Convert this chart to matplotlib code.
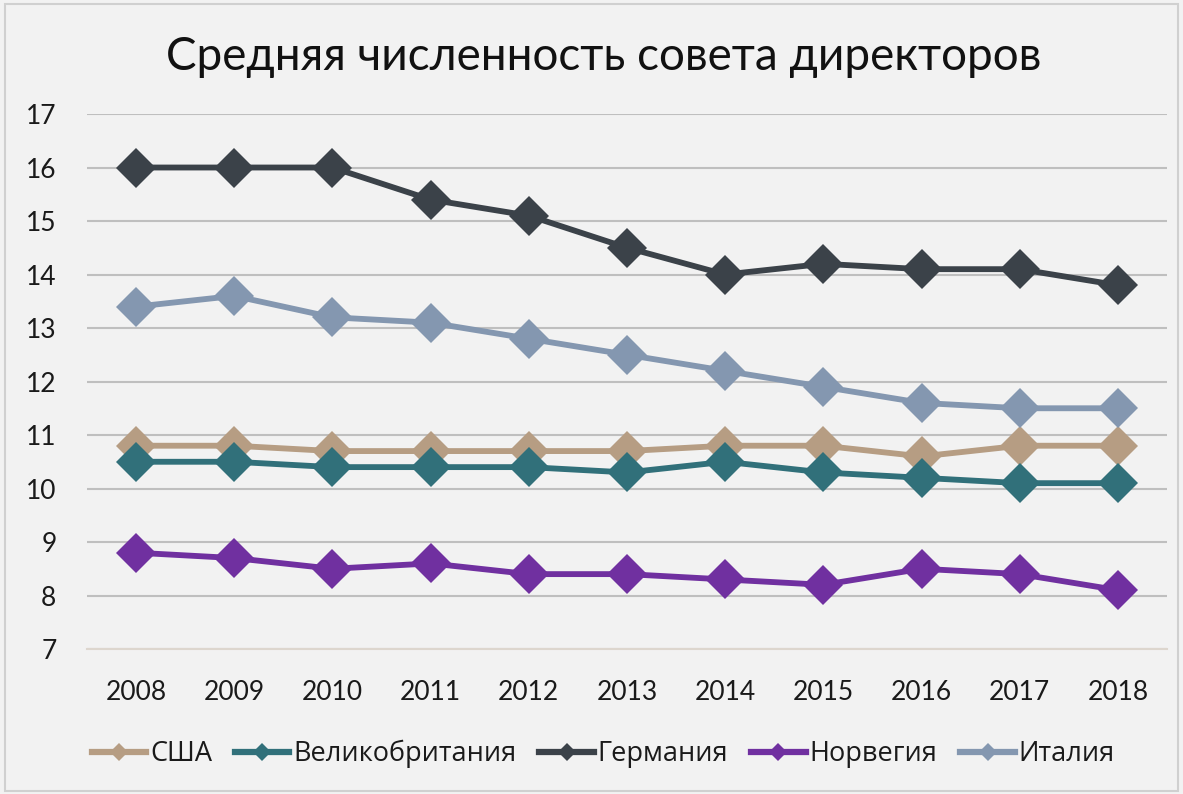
import matplotlib
matplotlib.use("Agg")
import matplotlib.pyplot as plt
from matplotlib.patches import Rectangle
from matplotlib.lines import Line2D

years = ["2008", "2009", "2010", "2011", "2012", "2013", "2014", "2015", "2016", "2017", "2018"]
usa = [10.8, 10.8, 10.7, 10.7, 10.7, 10.7, 10.8, 10.8, 10.6, 10.8, 10.8]
uk = [10.5, 10.5, 10.4, 10.4, 10.4, 10.3, 10.5, 10.3, 10.2, 10.1, 10.1]
germany = [16.0, 16.0, 16.0, 15.4, 15.1, 14.5, 14.0, 14.2, 14.1, 14.1, 13.8]
norway = [8.8, 8.7, 8.5, 8.6, 8.4, 8.4, 8.3, 8.2, 8.5, 8.4, 8.1]
italy = [13.4, 13.6, 13.2, 13.1, 12.8, 12.5, 12.2, 11.9, 11.6, 11.5, 11.5]

series_names = ["США", "Великобритания", "Германия", "Норвегия", "Италия"]
series_values = [usa, uk, germany, norway, italy]
colors = ["#B69D83", "#31707A", "#3B4249", "#7030A0", "#8497B0"]
yticks = [7, 8, 9, 10, 11, 12, 13, 14, 15, 16, 17]
title = "Средняя численность совета директоров"

tick_font = ["Lato", "DejaVu Sans"]
title_font = ["Lato", "DejaVu Sans"]
legend_font = ["Open Sans", "DejaVu Sans"]

bg = "#F2F2F2"
fig = plt.figure(figsize=(11.83, 7.94), dpi=100, facecolor=bg)
fig.patches.append(Rectangle((0.004, 0.004), 0.992, 0.991, transform=fig.transFigure,
                             fill=False, edgecolor="#D0D0D0", linewidth=1.5))
ax = fig.add_axes([0.0735, 0.1826, 0.913, 0.6738])
ax.set_facecolor(bg)

x = list(range(len(years)))
for name, vals, c in zip(series_names, series_values, colors):
    ax.plot(x, vals, color=c, linewidth=4.2, marker="D", markersize=20,
            markeredgewidth=0, solid_joinstyle="round", label=name)

ax.set_xlim(-0.5, len(years) - 0.5)
ax.set_ylim(7, 17)
ax.set_yticks(yticks)
ax.set_xticks(x)
ax.set_xticklabels(years)
ax.yaxis.grid(True, color="#BFBFBF", linewidth=1.5)
ax.set_axisbelow(True)
for s in ["left", "right", "top"]:
    ax.spines[s].set_visible(False)
ax.spines["bottom"].set_color("#DDD6CE")
ax.spines["bottom"].set_linewidth(1.5)
ax.tick_params(axis="both", length=0, labelsize=19, colors="#1a1a1a")
ax.tick_params(axis="y", pad=22)
ax.tick_params(axis="x", pad=22)
for lab in ax.get_xticklabels() + ax.get_yticklabels():
    lab.set_family(tick_font)

fig.text(0.51, 0.928, title, ha="center", va="center", fontsize=33,
         family=title_font, color="#111111")

handles = [Line2D([0], [0], color=c, linewidth=4.5, marker="D", markersize=9,
                  markeredgewidth=0) for c in colors]
leg = fig.legend(handles, series_names, loc="center", bbox_to_anchor=(0.51, 0.05),
                 ncol=5, frameon=False, handlelength=2.0, handletextpad=0.15,
                 columnspacing=0.85, prop={"family": legend_font, "size": 19.5})
for t in leg.get_texts():
    t.set_color("#1a1a1a")

fig.savefig("out.png", dpi=100, facecolor=bg)
